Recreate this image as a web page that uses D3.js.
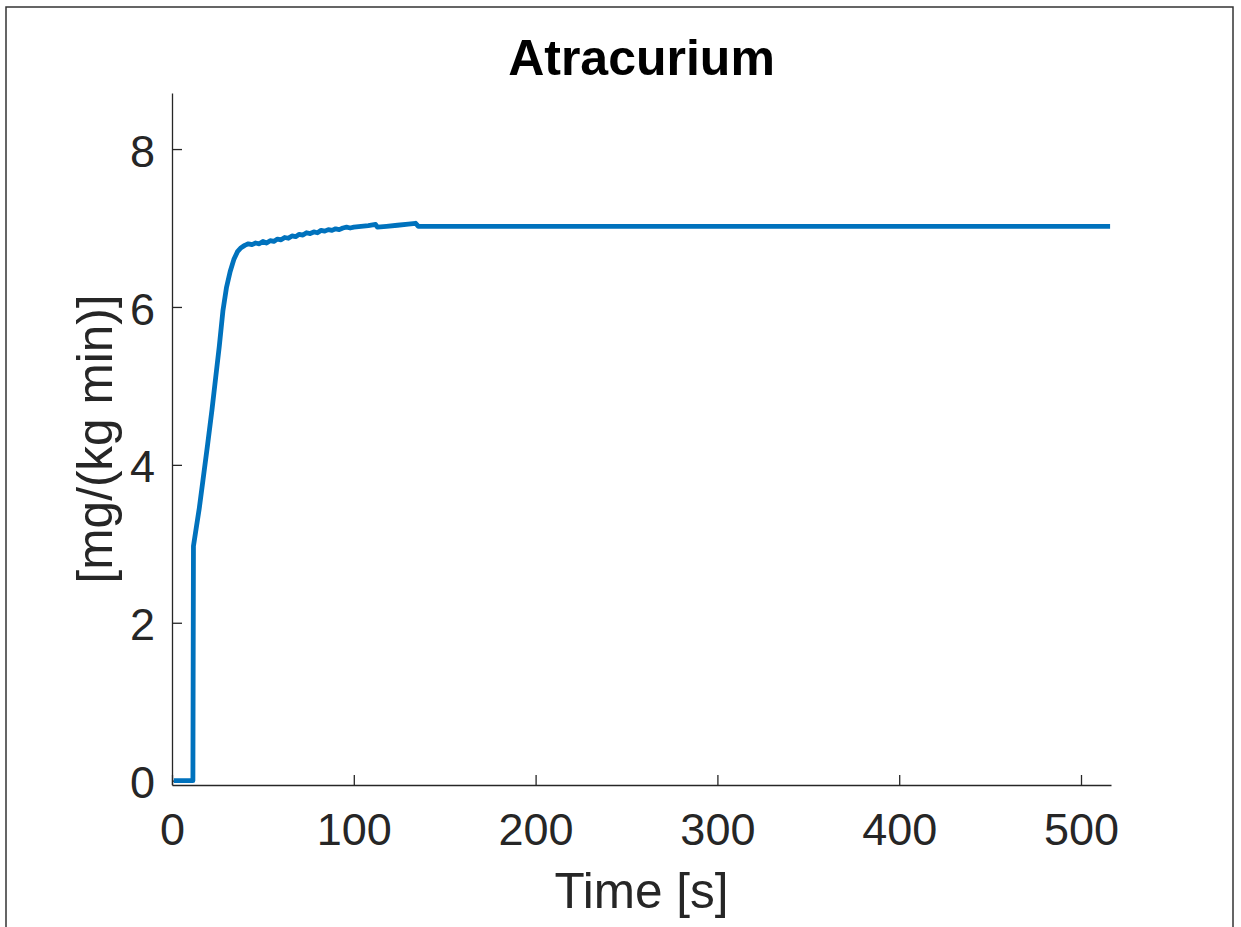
<!DOCTYPE html>
<html>
<head>
<meta charset="utf-8">
<script src="https://cdn.jsdelivr.net/npm/d3@7"></script>
<style>
  body { margin: 0; background: #fff; }
  text { font-family: "Liberation Sans", Arial, Helvetica, sans-serif; }
</style>
</head>
<body>
<script>
var width = 1241
var height = 927
var margin = {top: 93, right: 130, bottom: 142, left: 172}; // axes box inside the figure

// data
var time = [1, 11.5, 11.8, 13, 15, 17, 19.6, 22, 24, 26, 28, 30, 32, 34, 36, 38, 40, 42, 44, 46, 48,
  50, 52, 54, 56, 58, 60, 62, 64, 66, 68, 70, 72, 74, 76, 78, 80, 82, 84, 86, 88, 90, 92, 94, 96, 98,
  100, 104, 108, 112, 113, 118, 124, 130, 134, 135.5, 516];
var dose = [0, 0, 2.97, 3.15, 3.45, 3.8, 4.26, 4.7, 5.1, 5.5, 5.95, 6.25, 6.45, 6.6, 6.7, 6.75, 6.78, 6.80, 6.79, 6.81, 6.80,
  6.83, 6.81, 6.84, 6.83, 6.86, 6.85, 6.88, 6.87, 6.90, 6.89, 6.92, 6.91, 6.94, 6.93, 6.95, 6.94, 6.97, 6.96, 6.98, 6.97, 6.99, 6.98, 7.00, 7.01, 7.00,
  7.01, 7.02, 7.03, 7.045, 7.01, 7.02, 7.035, 7.05, 7.06, 7.02, 7.02];
var xTicks = [0, 100, 200, 300, 400, 500];
var yTicks = [0, 2, 4, 6, 8];

var series = time.map(function(t, i) { return {t: t, v: dose[i]}; });

var svg = d3.select("body").append("svg")
    .attr("width", width)
    .attr("height", height);

// figure frame
svg.append("rect")
    .attr("x", 6).attr("y", 7)
    .attr("width", 1227).attr("height", 940)
    .attr("fill", "none")
    .attr("stroke", "#333")
    .attr("stroke-width", 1.5);

var x = d3.scaleLinear().domain([0, 516.5]).range([margin.left, width - margin.right]);
var y = d3.scaleLinear().domain([-0.055, 8.71]).range([height - margin.bottom, margin.top]);

var axisColor = "#262626";

// x axis, ticks pointing inward
var gx = svg.append("g")
    .attr("transform", "translate(0," + (height - margin.bottom) + ")")
    .call(d3.axisBottom(x).tickValues(xTicks).tickSizeInner(-10).tickSizeOuter(0).tickPadding(28));
gx.select(".domain").attr("stroke", axisColor).attr("stroke-width", 1.3);
gx.selectAll(".tick line").attr("stroke", axisColor).attr("stroke-width", 1.3);
gx.selectAll(".tick text")
    .attr("fill", axisColor)
    .style("font-size", "45px")
    .style("font-family", "Liberation Sans, Arial, sans-serif");

// y axis
var gy = svg.append("g")
    .attr("transform", "translate(" + margin.left + ",0)")
    .call(d3.axisLeft(y).tickValues(yTicks).tickSizeInner(-10).tickSizeOuter(0).tickPadding(17));
gy.select(".domain").attr("stroke", axisColor).attr("stroke-width", 1.3);
gy.selectAll(".tick line").attr("stroke", axisColor).attr("stroke-width", 1.3);
gy.selectAll(".tick text")
    .attr("fill", axisColor)
    .attr("dy", "0.38em")
    .style("font-size", "45px")
    .style("font-family", "Liberation Sans, Arial, sans-serif");

// the curve
var line = d3.line()
    .x(function(d) { return x(d.t); })
    .y(function(d) { return y(d.v); });

svg.append("path")
    .datum(series)
    .attr("fill", "none")
    .attr("stroke", "#0072BD")
    .attr("stroke-width", 4.8)
    .attr("stroke-linejoin", "round")
    .attr("d", line);

// labels
svg.append("text")
    .attr("x", (margin.left + width - margin.right) / 2)
    .attr("y", 75)
    .attr("text-anchor", "middle")
    .style("font-size", "50px")
    .style("font-weight", "bold")
    .attr("fill", "#000")
    .text("Atracurium");

svg.append("text")
    .attr("x", (margin.left + width - margin.right) / 2)
    .attr("y", 908)
    .attr("text-anchor", "middle")
    .style("font-size", "49.5px")
    .attr("fill", axisColor)
    .text("Time [s]");

svg.append("text")
    .attr("transform", "translate(112," + ((margin.top + height - margin.bottom) / 2) + ") rotate(-90)")
    .attr("text-anchor", "middle")
    .style("font-size", "49.5px")
    .attr("fill", axisColor)
    .text("[mg/(kg min)]");
</script>
</body>
</html>
